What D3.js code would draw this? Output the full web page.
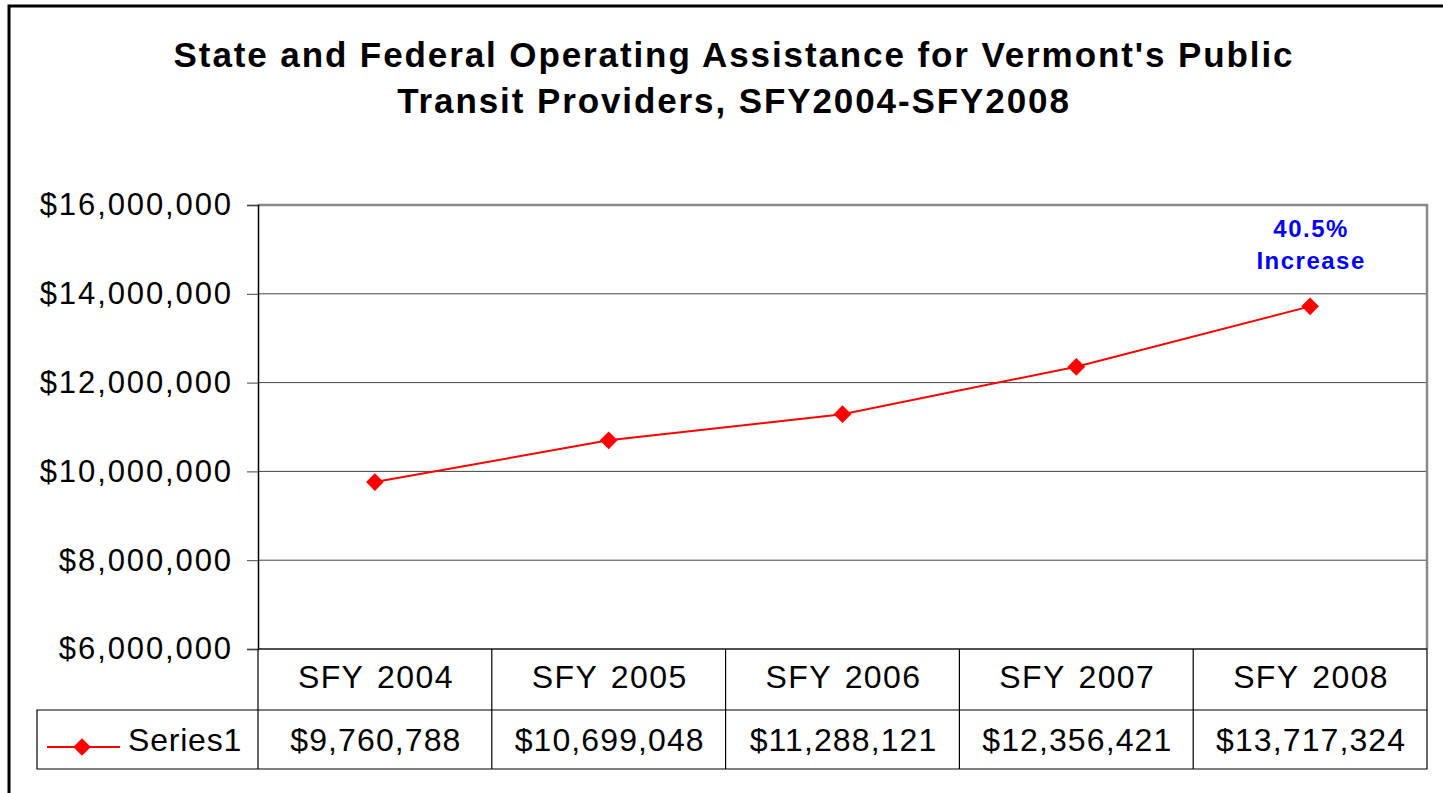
<!DOCTYPE html>
<html>
<head>
<meta charset="utf-8">
<script src="https://cdn.jsdelivr.net/npm/d3@7"></script>
<style>
  body { margin: 0; background: #fff; }
  text { font-family: "Liberation Sans", Arial, sans-serif; }
</style>
</head>
<body>
<div id="chart"></div>
<script>
// Chart data
var categories = ["SFY 2004", "SFY 2005", "SFY 2006", "SFY 2007", "SFY 2008"];
var values = [9760788, 10699048, 11288121, 12356421, 13717324];
var yTicks = [6000000, 8000000, 10000000, 12000000, 14000000, 16000000];
var seriesName = "Series1";
var titleLines = ["State and Federal Operating Assistance for Vermont's Public", "Transit Providers, SFY2004-SFY2008"];
var noteLines = ["40.5%", "Increase"];

var width = 1443, height = 793;
var plot = { left: 258, right: 1427, top: 205, bottom: 649 };
var rowH = [61, 59];

var svg = d3.select("#chart").append("svg")
    .attr("width", width)
    .attr("height", height);

svg.append("rect").attr("width", width).attr("height", height).attr("fill", "#fff");

// outer chart border
svg.append("rect")
    .attr("x", 9).attr("y", 6)
    .attr("width", 1600).attr("height", 1000)
    .attr("fill", "none").attr("stroke", "#000").attr("stroke-width", 3);

// title
svg.append("g").selectAll("text")
    .data(titleLines)
    .enter().append("text")
    .attr("x", 733 + 1)
    .attr("y", (d, i) => 67 + i * 46)
    .attr("text-anchor", "middle")
    .attr("font-size", 35)
    .attr("font-weight", "bold")
    .attr("letter-spacing", 1.9)
    .text(d => d);

var x = d3.scaleBand().domain(categories).range([plot.left, plot.right]);
var y = d3.scaleLinear().domain([6000000, 16000000]).range([plot.bottom, plot.top]);

// gridlines
svg.append("g").selectAll("line")
    .data(yTicks)
    .enter().append("line")
    .attr("x1", plot.left).attr("x2", plot.right)
    .attr("y1", d => y(d)).attr("y2", d => y(d))
    .attr("stroke", "#444").attr("stroke-width", 1);

// plot area border (top/right gray)
svg.append("path")
    .attr("d", `M${plot.left},${plot.top}H${plot.right}V${plot.bottom}`)
    .attr("fill", "none").attr("stroke", "#888").attr("stroke-width", 2.5);

// y axis
var fmt = d3.format("$,.0f");
var yAxis = svg.append("g")
    .attr("transform", `translate(${plot.left},0)`)
    .call(d3.axisLeft(y).tickValues(yTicks).tickFormat(fmt).tickSize(11).tickPadding(16));
yAxis.select(".domain").attr("stroke", "#000").attr("stroke-width", 1.5);
yAxis.selectAll(".tick line").attr("stroke", "#444");
yAxis.selectAll("text")
    .attr("font-size", 31)
    .attr("font-family", "Liberation Sans, Arial, sans-serif")
    .attr("letter-spacing", 1.9)
    .attr("dx", 2)
    .attr("fill", "#000");

// data table
var table = svg.append("g");
var tTop = plot.bottom, tMid = plot.bottom + rowH[0], tBot = tMid + rowH[1];
var legendLeft = 37;
table.append("path")
    .attr("d", `M${plot.left},${tTop}H${plot.right}V${tBot}H${legendLeft}V${tMid}H${plot.right}`
        + `M${plot.left},${tTop}V${tBot}`)
    .attr("fill", "none").attr("stroke", "#000").attr("stroke-width", 1.2);
table.selectAll(".sep")
    .data(categories.slice(1))
    .enter().append("line")
    .attr("x1", d => x(d)).attr("x2", d => x(d))
    .attr("y1", tTop).attr("y2", tBot)
    .attr("stroke", "#000").attr("stroke-width", 1.2);
table.selectAll(".cat")
    .data(categories)
    .enter().append("text")
    .attr("x", d => x(d) + x.bandwidth() / 2 + 1)
    .attr("y", tTop + 39)
    .attr("text-anchor", "middle")
    .attr("font-size", 32)
    .attr("letter-spacing", 1.4)
    .attr("word-spacing", 3)
    .text(d => d);
table.selectAll(".val")
    .data(values)
    .enter().append("text")
    .attr("x", (d, i) => x(categories[i]) + x.bandwidth() / 2 + 1)
    .attr("y", tMid + 41)
    .attr("text-anchor", "middle")
    .attr("font-size", 32)
    .attr("letter-spacing", 1.1)
    .text(d => fmt(d));

// legend key
var ly = tMid + 37;
table.append("line")
    .attr("x1", 47).attr("x2", 120)
    .attr("y1", ly).attr("y2", ly)
    .attr("stroke", "red").attr("stroke-width", 2);
table.append("path")
    .attr("d", d3.symbol().type(d3.symbolDiamond2).size(200)())
    .attr("transform", `translate(82,${ly})`)
    .attr("fill", "red");
table.append("text")
    .attr("x", 128).attr("y", tMid + 41)
    .attr("font-size", 32)
    .attr("letter-spacing", 0.8)
    .text(seriesName);

// series line
var pts = values.map((v, i) => [x(categories[i]) + x.bandwidth() / 2, y(v)]);
svg.append("path")
    .datum(pts)
    .attr("d", d3.line())
    .attr("fill", "none")
    .attr("stroke", "red")
    .attr("stroke-width", 2);
svg.append("g").selectAll("path")
    .data(pts)
    .enter().append("path")
    .attr("d", d3.symbol().type(d3.symbolDiamond2).size(200)())
    .attr("transform", d => `translate(${d[0]},${d[1]})`)
    .attr("fill", "red");

// annotation
svg.append("g").selectAll("text")
    .data(noteLines)
    .enter().append("text")
    .attr("x", pts[4][0] + 1)
    .attr("y", (d, i) => 237 + i * 32)
    .attr("text-anchor", "middle")
    .attr("font-size", 24)
    .attr("font-weight", "bold")
    .attr("letter-spacing", 1.5)
    .attr("fill", "#0000ff")
    .text(d => d);
</script>
</body>
</html>
